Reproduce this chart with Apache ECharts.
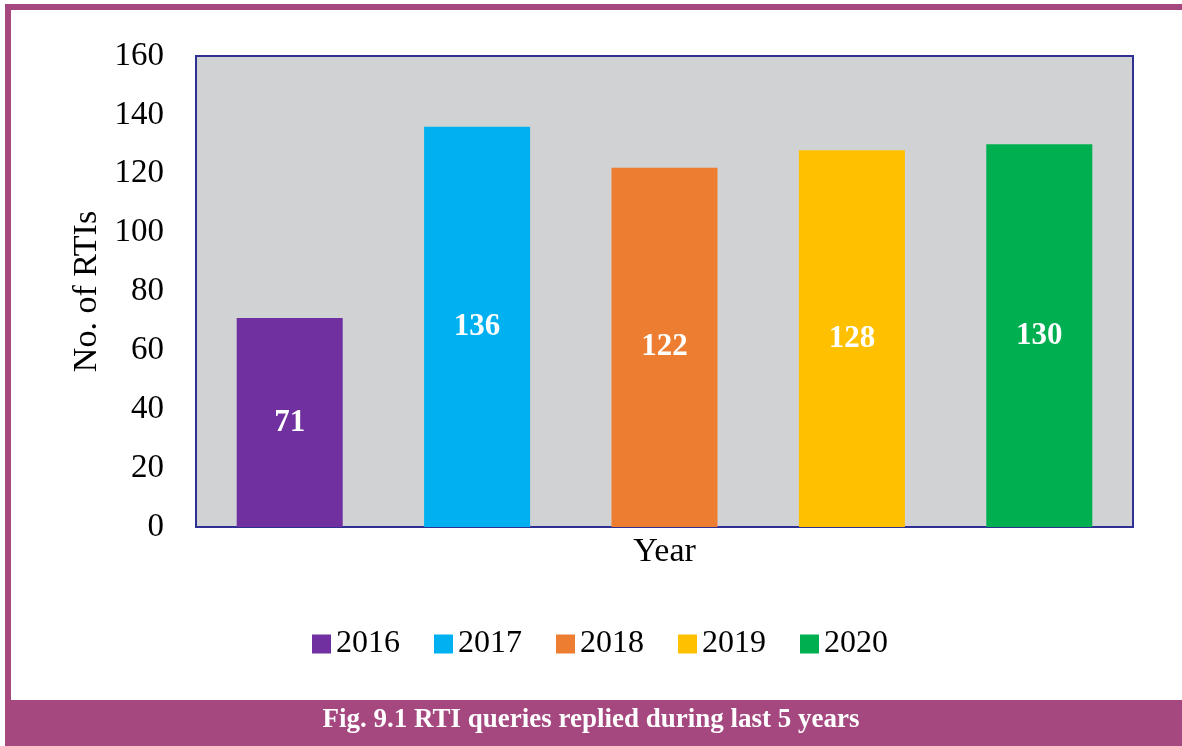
<!DOCTYPE html>
<html>
<head>
<meta charset="utf-8">
<script src="https://cdn.jsdelivr.net/npm/echarts@6/dist/echarts.min.js"></script>
<style>
  html, body { margin: 0; padding: 0; background: #ffffff; }
  #chart { width: 1182px; height: 746px; }
</style>
</head>
<body>
<div id="chart"></div>
<script>
// years shown in the legend, one bar each
var years = ['2016', '2017', '2018', '2019', '2020'];
var rtiCounts = [71, 136, 122, 128, 130];
var barColors = ['#7030A0', '#00B0F0', '#ED7D31', '#FFC000', '#00B050'];
var yTicks = { min: 0, max: 160, step: 20 };

var serif = '"Liberation Serif", "DejaVu Serif", serif';
var frameColor = '#A5487F';

var myChart = echarts.init(document.getElementById('chart'));

var seriesList = [];
for (var i = 0; i < years.length; i++) {
    var d = [];
    for (var j = 0; j < rtiCounts.length; j++) {
        d.push(j === i ? rtiCounts[j] : '-');
    }
    seriesList.push({
        name: years[i],
        type: 'bar',
        barWidth: 106,
        barGap: '-100%',
        itemStyle: { color: barColors[i] },
        label: {
            show: true,
            position: 'inside',
            color: '#ffffff',
            fontFamily: serif,
            fontWeight: 'bold',
            fontSize: 31
        },
        data: d
    });
}

var option = {
    animation: false,
    backgroundColor: '#ffffff',
    grid: {
        left: 196,
        top: 56,
        right: 49,
        bottom: 219,
        show: true,
        backgroundColor: '#D1D2D4',
        borderColor: '#2E3192',
        borderWidth: 2
    },
    legend: {
        data: years,
        left: 307,
        top: 623,
        icon: 'rect',
        itemWidth: 19,
        itemHeight: 19,
        itemGap: 34,
        textStyle: { fontFamily: serif, fontSize: 32, color: '#000000' }
    },
    xAxis: {
        type: 'category',
        data: years,
        name: 'Year',
        nameLocation: 'middle',
        nameGap: 8,
        nameTextStyle: { fontFamily: serif, fontSize: 34, color: '#000000', verticalAlign: 'top' },
        axisLabel: { show: false },
        axisTick: { show: false },
        axisLine: { show: false }
    },
    yAxis: {
        type: 'value',
        min: yTicks.min,
        max: yTicks.max,
        interval: yTicks.step,
        name: 'No. of RTIs',
        nameLocation: 'middle',
        nameGap: 92,
        nameTextStyle: { fontFamily: serif, fontSize: 34, color: '#000000' },
        axisLabel: { fontFamily: serif, fontSize: 33, color: '#000000', margin: 32 },
        axisTick: { show: false },
        axisLine: { show: false },
        splitLine: { show: false }
    },
    graphic: [
        // frame: top line, left line, caption strip
        { type: 'rect', left: 5, top: 4, shape: { width: 1177, height: 6 }, style: { fill: frameColor }, silent: true },
        { type: 'rect', left: 5, top: 4, shape: { width: 6, height: 700 }, style: { fill: frameColor }, silent: true },
        { type: 'rect', left: 5, top: 700, shape: { width: 1177, height: 46 }, style: { fill: frameColor }, silent: true },
        {
            type: 'text', left: 'center', top: 707,
            style: {
                text: 'Fig. 9.1 RTI queries replied during last 5 years',
                fill: '#ffffff',
                font: 'bold 27px ' + serif
            },
            silent: true
        }
    ],
    series: seriesList
};

myChart.setOption(option);
</script>
</body>
</html>
